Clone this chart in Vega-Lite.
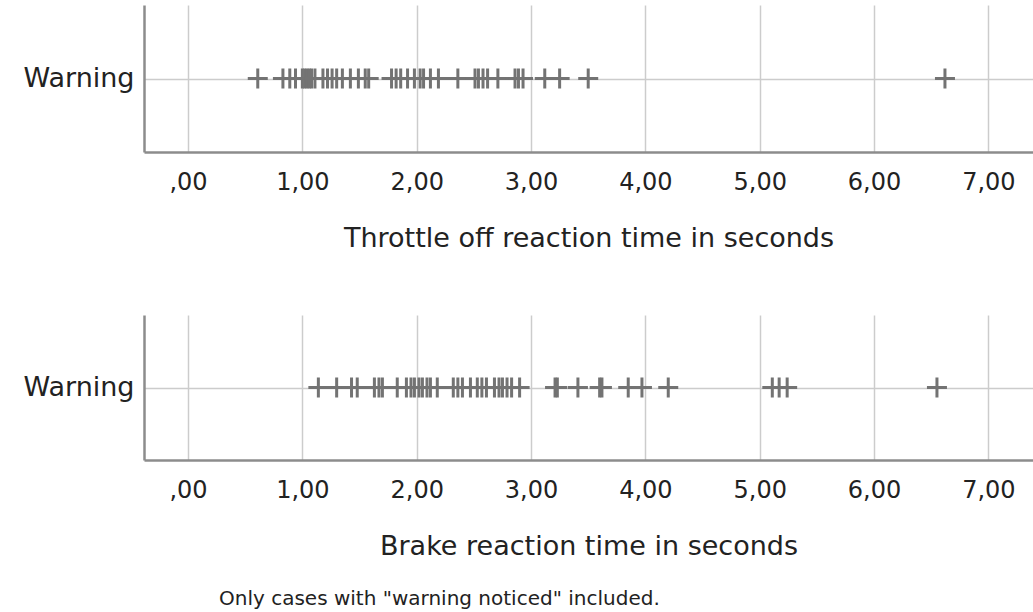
{
  "$schema": "https://vega.github.io/schema/vega-lite/v6.json",
  "background": "white",
  "padding": {"left": 8, "top": 5, "right": 0, "bottom": 5},
  "datasets": {
    "throttle": [
      {"group": "Warning", "time": 0.61},
      {"group": "Warning", "time": 0.83},
      {"group": "Warning", "time": 0.89},
      {"group": "Warning", "time": 0.94},
      {"group": "Warning", "time": 1.00},
      {"group": "Warning", "time": 1.02},
      {"group": "Warning", "time": 1.04},
      {"group": "Warning", "time": 1.06},
      {"group": "Warning", "time": 1.08},
      {"group": "Warning", "time": 1.11},
      {"group": "Warning", "time": 1.18},
      {"group": "Warning", "time": 1.22},
      {"group": "Warning", "time": 1.26},
      {"group": "Warning", "time": 1.30},
      {"group": "Warning", "time": 1.35},
      {"group": "Warning", "time": 1.42},
      {"group": "Warning", "time": 1.49},
      {"group": "Warning", "time": 1.55},
      {"group": "Warning", "time": 1.58},
      {"group": "Warning", "time": 1.78},
      {"group": "Warning", "time": 1.82},
      {"group": "Warning", "time": 1.86},
      {"group": "Warning", "time": 1.92},
      {"group": "Warning", "time": 1.98},
      {"group": "Warning", "time": 2.03},
      {"group": "Warning", "time": 2.06},
      {"group": "Warning", "time": 2.12},
      {"group": "Warning", "time": 2.19},
      {"group": "Warning", "time": 2.36},
      {"group": "Warning", "time": 2.51},
      {"group": "Warning", "time": 2.54},
      {"group": "Warning", "time": 2.58},
      {"group": "Warning", "time": 2.62},
      {"group": "Warning", "time": 2.71},
      {"group": "Warning", "time": 2.86},
      {"group": "Warning", "time": 2.89},
      {"group": "Warning", "time": 2.93},
      {"group": "Warning", "time": 3.12},
      {"group": "Warning", "time": 3.25},
      {"group": "Warning", "time": 3.50},
      {"group": "Warning", "time": 6.62}
    ],
    "brake": [
      {"group": "Warning", "time": 1.14},
      {"group": "Warning", "time": 1.30},
      {"group": "Warning", "time": 1.43},
      {"group": "Warning", "time": 1.48},
      {"group": "Warning", "time": 1.63},
      {"group": "Warning", "time": 1.67},
      {"group": "Warning", "time": 1.70},
      {"group": "Warning", "time": 1.83},
      {"group": "Warning", "time": 1.91},
      {"group": "Warning", "time": 1.95},
      {"group": "Warning", "time": 1.98},
      {"group": "Warning", "time": 2.02},
      {"group": "Warning", "time": 2.05},
      {"group": "Warning", "time": 2.09},
      {"group": "Warning", "time": 2.12},
      {"group": "Warning", "time": 2.18},
      {"group": "Warning", "time": 2.32},
      {"group": "Warning", "time": 2.36},
      {"group": "Warning", "time": 2.40},
      {"group": "Warning", "time": 2.47},
      {"group": "Warning", "time": 2.53},
      {"group": "Warning", "time": 2.57},
      {"group": "Warning", "time": 2.61},
      {"group": "Warning", "time": 2.68},
      {"group": "Warning", "time": 2.72},
      {"group": "Warning", "time": 2.75},
      {"group": "Warning", "time": 2.79},
      {"group": "Warning", "time": 2.83},
      {"group": "Warning", "time": 2.90},
      {"group": "Warning", "time": 3.21},
      {"group": "Warning", "time": 3.23},
      {"group": "Warning", "time": 3.41},
      {"group": "Warning", "time": 3.60},
      {"group": "Warning", "time": 3.62},
      {"group": "Warning", "time": 3.85},
      {"group": "Warning", "time": 3.97},
      {"group": "Warning", "time": 4.20},
      {"group": "Warning", "time": 5.11},
      {"group": "Warning", "time": 5.17},
      {"group": "Warning", "time": 5.24},
      {"group": "Warning", "time": 6.55}
    ]
  },
  "title": {
    "text": "Only cases with \"warning noticed\" included.",
    "orient": "bottom",
    "anchor": "start",
    "dx": 211,
    "offset": 30,
    "fontSize": 20,
    "fontWeight": "normal",
    "font": "DejaVu Sans",
    "color": "#222222"
  },
  "config": {
    "font": "DejaVu Sans",
    "view": {"stroke": null},
    "axis": {
      "labelFont": "DejaVu Sans",
      "titleFont": "DejaVu Sans",
      "labelColor": "#222222",
      "titleColor": "#222222",
      "domainColor": "#8c8c8c",
      "domainWidth": 2.5,
      "gridColor": "#cccccc",
      "gridWidth": 1.5,
      "ticks": false
    }
  },
  "spacing": 64,
  "vconcat": [
    {
      "data": {"name": "throttle"},
      "width": 889,
      "height": 147,
      "mark": {
        "type": "point",
        "shape": "M-1,0L1,0M0,-1L0,1",
        "filled": false,
        "size": 400,
        "strokeWidth": 3,
        "color": "#737373",
        "opacity": 1
      },
      "encoding": {
        "x": {
          "field": "time",
          "type": "quantitative",
          "scale": {"domain": [-0.385, 7.39], "nice": false, "zero": false},
          "axis": {
            "values": [0, 1, 2, 3, 4, 5, 6, 7],
            "labelExpr": "datum.value == 0 ? ',00' : replace(format(datum.value, '.2f'), '.', ',')",
            "labelFontSize": 24,
            "labelPadding": 18,
            "title": "Throttle off reaction time in seconds",
            "titleFontSize": 27,
            "titleFontWeight": "normal",
            "titlePadding": 31,
            "grid": true
          }
        },
        "y": {
          "field": "group",
          "type": "nominal",
          "axis": {
            "title": null,
            "labelFontSize": 27,
            "labelPadding": 10,
            "grid": true,
            "minExtent": 136,
            "maxExtent": 136
          }
        }
      }
    },
    {
      "data": {"name": "brake"},
      "width": 889,
      "height": 145,
      "mark": {
        "type": "point",
        "shape": "M-1,0L1,0M0,-1L0,1",
        "filled": false,
        "size": 400,
        "strokeWidth": 3,
        "color": "#737373",
        "opacity": 1
      },
      "encoding": {
        "x": {
          "field": "time",
          "type": "quantitative",
          "scale": {"domain": [-0.385, 7.39], "nice": false, "zero": false},
          "axis": {
            "values": [0, 1, 2, 3, 4, 5, 6, 7],
            "labelExpr": "datum.value == 0 ? ',00' : replace(format(datum.value, '.2f'), '.', ',')",
            "labelFontSize": 24,
            "labelPadding": 18,
            "title": "Brake reaction time in seconds",
            "titleFontSize": 27,
            "titleFontWeight": "normal",
            "titlePadding": 31,
            "grid": true
          }
        },
        "y": {
          "field": "group",
          "type": "nominal",
          "axis": {
            "title": null,
            "labelFontSize": 27,
            "labelPadding": 10,
            "grid": true,
            "minExtent": 136,
            "maxExtent": 136
          }
        }
      }
    }
  ]
}
